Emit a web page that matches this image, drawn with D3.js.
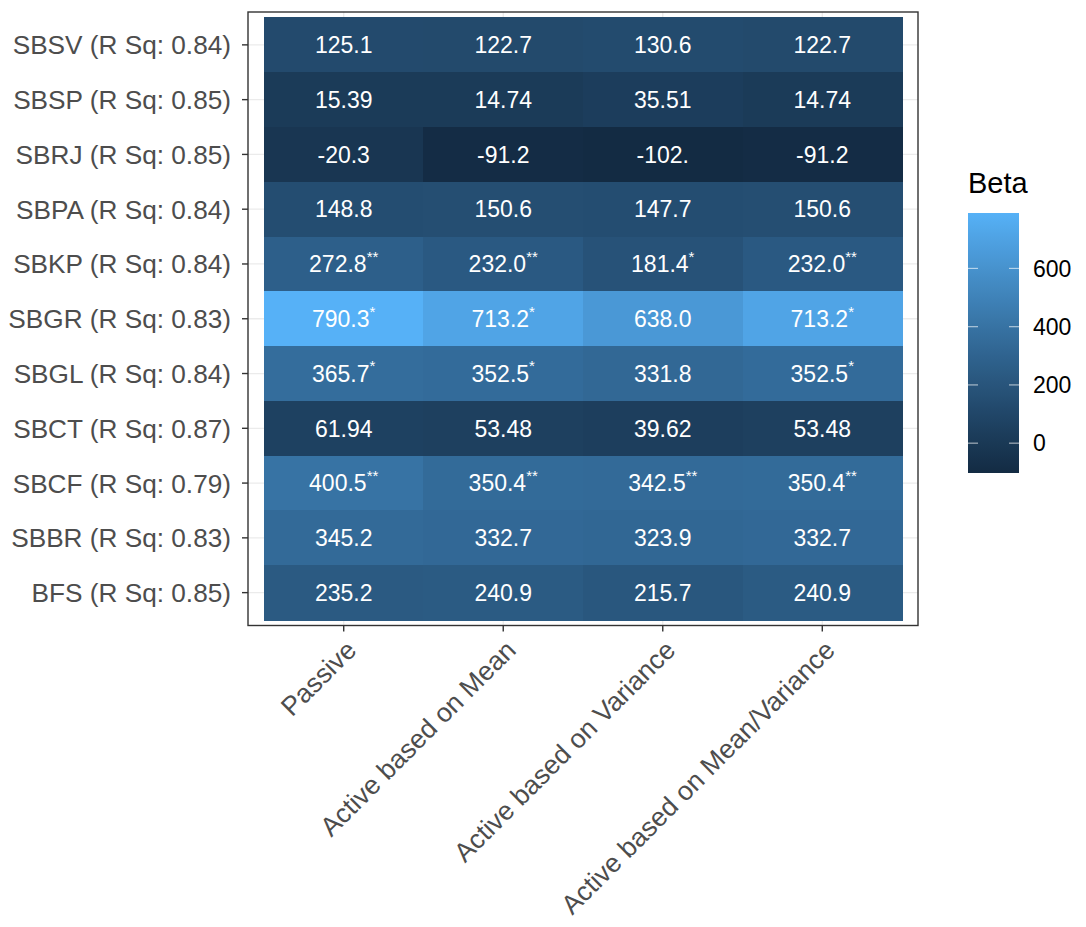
<!DOCTYPE html>
<html>
<head>
<meta charset="utf-8">
<script src="https://cdn.jsdelivr.net/npm/d3@7"></script>
<style>
  html, body { margin: 0; padding: 0; background: #fff; }
  svg { display: block; font-family: "Liberation Sans", Arial, Helvetica, sans-serif; }
</style>
</head>
<body>
<svg id="chart" width="1086" height="927"></svg>
<script>
// Strategies (columns) and airports (rows, top to bottom)
const strategies = ["Passive", "Active based on Mean", "Active based on Variance", "Active based on Mean/Variance"];
const airports = [
  "SBSV (R Sq: 0.84)", "SBSP (R Sq: 0.85)", "SBRJ (R Sq: 0.85)", "SBPA (R Sq: 0.84)",
  "SBKP (R Sq: 0.84)", "SBGR (R Sq: 0.83)", "SBGL (R Sq: 0.84)", "SBCT (R Sq: 0.87)",
  "SBCF (R Sq: 0.79)", "SBBR (R Sq: 0.83)", "BFS (R Sq: 0.85)"
];

// Beta per strategy, one value per airport (same row order)
const betaPassive      = [125.1, 15.39, -20.3, 148.8, 272.8, 790.3, 365.7, 61.94, 400.5, 345.2, 235.2];
const betaMean         = [122.7, 14.74, -91.2, 150.6, 232.04, 713.2, 352.5, 53.48, 350.4, 332.7, 240.9];
const betaVariance     = [130.6, 35.51, -102.4, 147.7, 181.4, 638.04, 331.8, 39.62, 342.5, 323.9, 215.7];
const betaMeanVariance = [122.7, 14.74, -91.2, 150.6, 232.04, 713.2, 352.5, 53.48, 350.4, 332.7, 240.9];

// Significance stars per strategy
const starsPassive      = ["", "", "", "", "**", "*", "*", "", "**", "", ""];
const starsMean         = ["", "", "", "", "**", "*", "*", "", "**", "", ""];
const starsVariance     = ["", "", "", "", "*", "", "", "", "**", "", ""];
const starsMeanVariance = ["", "", "", "", "**", "*", "*", "", "**", "", ""];

const legendTicks = [0, 200, 400, 600];

const betaBySeries = [betaPassive, betaMean, betaVariance, betaMeanVariance];
const starsBySeries = [starsPassive, starsMean, starsVariance, starsMeanVariance];

const cells = [];
strategies.forEach((s, i) => {
  airports.forEach((a, j) => {
    cells.push({ strategy: s, airport: a, value: betaBySeries[i][j], stars: starsBySeries[i][j] });
  });
});

const svg = d3.select("#chart");
const panel = { left: 248, right: 918, top: 12, bottom: 625.5 };

const x = d3.scaleBand().domain(strategies).range([panel.left, panel.right]).paddingInner(0).paddingOuter(0.1);
const y = d3.scaleBand().domain(airports).range([panel.top, panel.bottom]).paddingInner(0).paddingOuter(0.1);

const extent = d3.extent(cells, d => d.value);
const color = d3.scaleSequential(d3.interpolateLab("#132B43", "#56B1F7")).domain(extent);

// grid lines
const grid = svg.append("g");
grid.selectAll("line.gx").data(strategies).join("line")
  .attr("x1", d => x(d) + x.bandwidth() / 2).attr("x2", d => x(d) + x.bandwidth() / 2)
  .attr("y1", panel.top).attr("y2", panel.bottom)
  .attr("stroke", "#EBEBEB").attr("stroke-width", 1.3);
grid.selectAll("line.gy").data(airports).join("line")
  .attr("y1", d => y(d) + y.bandwidth() / 2).attr("y2", d => y(d) + y.bandwidth() / 2)
  .attr("x1", panel.left).attr("x2", panel.right)
  .attr("stroke", "#EBEBEB").attr("stroke-width", 1.3);

// tiles
svg.append("g").attr("shape-rendering", "crispEdges")
  .selectAll("rect").data(cells).join("rect")
  .attr("x", d => x(d.strategy))
  .attr("y", d => y(d.airport))
  .attr("width", x.bandwidth() + 0.5)
  .attr("height", y.bandwidth() + 0.5)
  .attr("fill", d => color(d.value));

// tile labels
const labels = svg.append("g").selectAll("text").data(cells).join("text")
  .attr("x", d => x(d.strategy) + x.bandwidth() / 2)
  .attr("y", d => y(d.airport) + y.bandwidth() / 2)
  .attr("dy", "0.36em")
  .attr("text-anchor", "middle")
  .attr("fill", "#FFFFFF")
  .attr("font-size", 23);
labels.append("tspan").text(d => String(d.value).slice(0, 5));
labels.filter(d => d.stars).append("tspan")
  .attr("font-size", 15).attr("dy", "-0.7em")
  .text(d => d.stars);

// panel border
svg.append("rect")
  .attr("x", panel.left).attr("y", panel.top)
  .attr("width", panel.right - panel.left).attr("height", panel.bottom - panel.top)
  .attr("fill", "none").attr("stroke", "#333333").attr("stroke-width", 1.4);

// y axis
const yAxis = svg.append("g");
yAxis.selectAll("line").data(airports).join("line")
  .attr("x1", panel.left - 6).attr("x2", panel.left)
  .attr("y1", d => y(d) + y.bandwidth() / 2).attr("y2", d => y(d) + y.bandwidth() / 2)
  .attr("stroke", "#333333").attr("stroke-width", 1.4);
yAxis.selectAll("text").data(airports).join("text")
  .attr("x", panel.left - 17)
  .attr("y", d => y(d) + y.bandwidth() / 2)
  .attr("dy", "0.36em")
  .attr("text-anchor", "end")
  .attr("fill", "#4D4D4D")
  .attr("font-size", 26.2)
  .text(d => d);

// x axis
const xAxis = svg.append("g");
xAxis.selectAll("line").data(strategies).join("line")
  .attr("x1", d => x(d) + x.bandwidth() / 2).attr("x2", d => x(d) + x.bandwidth() / 2)
  .attr("y1", panel.bottom).attr("y2", panel.bottom + 6)
  .attr("stroke", "#333333").attr("stroke-width", 1.4);
xAxis.selectAll("text").data(strategies).join("text")
  .attr("transform", d => `translate(${x(d) + x.bandwidth() / 2 + 1},${panel.bottom + 13}) rotate(-45)`)
  .attr("dy", "0.7em")
  .attr("text-anchor", "end")
  .attr("fill", "#4D4D4D")
  .attr("font-size", 26.6)
  .text(d => d);

// legend
const bar = { x: 968, y0: 213, y1: 473, w: 51 };
const lg = svg.append("g");
lg.append("text").attr("x", bar.x).attr("y", 193).attr("font-size", 29).attr("fill", "#000").text("Beta");
const ly = d3.scaleLinear().domain(extent).range([bar.y1, bar.y0]);
const grad = svg.append("defs").append("linearGradient")
  .attr("id", "betaGradient").attr("x1", 0).attr("y1", 1).attr("x2", 0).attr("y2", 0);
grad.selectAll("stop").data(d3.range(21)).join("stop")
  .attr("offset", i => i / 20)
  .attr("stop-color", i => color(extent[0] + (extent[1] - extent[0]) * i / 20));
lg.append("rect")
  .attr("x", bar.x).attr("y", bar.y0).attr("width", bar.w).attr("height", bar.y1 - bar.y0)
  .attr("fill", "url(#betaGradient)");
legendTicks.forEach(t => {
  lg.append("line").attr("x1", bar.x).attr("x2", bar.x + 10).attr("y1", ly(t)).attr("y2", ly(t))
    .attr("stroke", "#FFFFFF").attr("stroke-opacity", 0.6).attr("stroke-width", 1.2);
  lg.append("line").attr("x1", bar.x + bar.w - 10).attr("x2", bar.x + bar.w).attr("y1", ly(t)).attr("y2", ly(t))
    .attr("stroke", "#FFFFFF").attr("stroke-opacity", 0.6).attr("stroke-width", 1.2);
});
lg.selectAll("text.tick").data(legendTicks).join("text")
  .attr("class", "tick")
  .attr("x", bar.x + bar.w + 14)
  .attr("y", d => ly(d))
  .attr("dy", "0.36em")
  .attr("font-size", 23)
  .attr("fill", "#000")
  .text(d => d);
</script>
</body>
</html>
